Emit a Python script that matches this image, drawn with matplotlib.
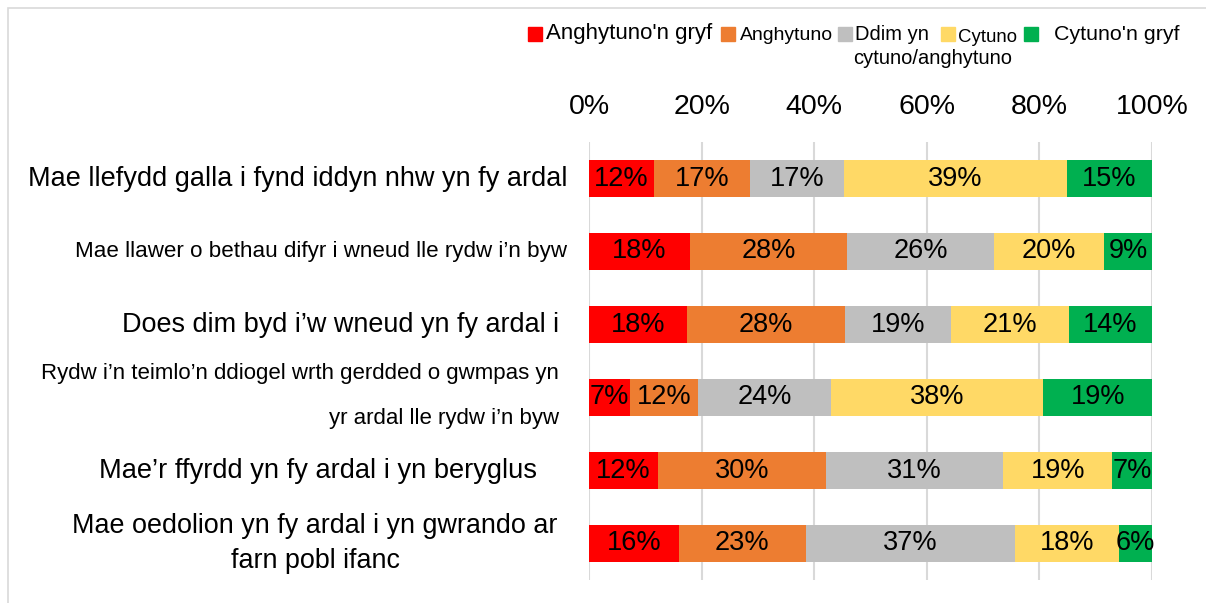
import matplotlib
matplotlib.use("Agg")
import matplotlib.pyplot as plt
import matplotlib.transforms as mtrans
from matplotlib.patches import Rectangle

W, H, DPI = 1206, 603, 100

categories = [
    "Mae llefydd galla i fynd iddyn nhw yn fy ardal",
    "Mae llawer o bethau difyr i wneud lle rydw i\u2019n byw",
    "Does dim byd i\u2019w wneud yn fy ardal i",
    "Rydw i\u2019n teimlo\u2019n ddiogel wrth gerdded o gwmpas yn\nyr ardal lle rydw i\u2019n byw",
    "Mae\u2019r ffyrdd yn fy ardal i yn beryglus",
    "Mae oedolion yn fy ardal i yn gwrando ar\nfarn pobl ifanc",
]
series_names = ["Anghytuno'n gryf", "Anghytuno", "Ddim yn\ncytuno/anghytuno",
                "Cytuno", "Cytuno'n gryf"]
colors = ["#FF0000", "#ED7D31", "#BFBFBF", "#FFD966", "#00B050"]

strongly_disagree = [11.6, 17.9, 17.4, 7.3, 12.3, 15.9]
disagree = [17.0, 28.0, 28.1, 12.0, 29.8, 22.6]
neutral = [16.7, 26.0, 18.8, 23.7, 31.5, 37.2]
agree = [39.6, 19.6, 21.0, 37.7, 19.3, 18.4]
strongly_agree = [15.1, 8.5, 14.7, 19.3, 7.1, 5.9]

labels_sd = [12, 18, 18, 7, 12, 16]
labels_d = [17, 28, 28, 12, 30, 23]
labels_n = [17, 26, 19, 24, 31, 37]
labels_a = [39, 20, 21, 38, 19, 18]
labels_sa = [15, 9, 14, 19, 7, 6]

xticks = [0, 20, 40, 60, 80, 100]
xtick_labels = [f"{v}%" for v in xticks]

series = [strongly_disagree, disagree, neutral, agree, strongly_agree]
series_labels = [labels_sd, labels_d, labels_n, labels_a, labels_sa]

FONT = ["Liberation Sans", "DejaVu Sans"]
plt.rcParams["font.family"] = FONT

fig = plt.figure(figsize=(W / DPI, H / DPI), dpi=DPI)
fig.patch.set_facecolor("white")

def fx(x):
    return x / W

def fy(y):
    return 1 - y / H

# outer border
fig.add_artist(Rectangle((fx(8), -0.1), 1.2, fy(8) + 0.1, transform=fig.transFigure,
                         fill=False, edgecolor="#D9D9D9", lw=1.2))

ax = fig.add_axes([fx(589), fy(580), (1152 - 589) / W, (580 - 142) / H])
n = len(categories)
ypos = list(range(n))
left = [0.0] * n
for vals, labs, col in zip(series, series_labels, colors):
    ax.barh(ypos, vals, left=left, height=0.5, color=col, zorder=2)
    for i, (v, l) in enumerate(zip(vals, labs)):
        ax.text(left[i] + v / 2, i, f"{l}%", ha="center", va="center",
                fontsize=19.5, color="black", zorder=3)
    left = [a + b for a, b in zip(left, vals)]

ax.set_xlim(0, 100)
ax.set_ylim(n - 0.5, -0.5)
ax.xaxis.tick_top()
ax.set_xticks(xticks)
ax.set_xticklabels(xtick_labels, fontsize=20.5)
ax.tick_params(axis="x", length=0, pad=16)
ax.set_yticks([])
ax.grid(axis="x", color="#D9D9D9", lw=1.5, zorder=0)
ax.set_axisbelow(True)
for s in ax.spines.values():
    s.set_visible(False)

renderer = fig.canvas.get_renderer()

def fit(t, width_px):
    bb = t.get_window_extent(renderer)
    t.set_fontsize(t.get_fontsize() * width_px / bb.width)

# row labels: (x px, align, width px, y offset in rows, linespacing)
blend = mtrans.blended_transform_factory(fig.transFigure, ax.transData)
row_layout = [
    (567, "right", 540, 0.0, 1.2),
    (567, "right", 492, 0.0, 1.2),
    (559, "right", 437, 0.0, 1.2),
    (559, "right", 518, -0.02, 2.5),
    (537, "right", 438, 0.0, 1.2),
    (315, "center", 484, 0.0, 1.45),
]
for i, (cat, (x, ha, w, dy, ls)) in enumerate(zip(categories, row_layout)):
    t = ax.text(fx(x), i + dy, cat, transform=blend, ha=ha, va="center",
                multialignment=ha, fontsize=16, linespacing=ls)
    fit(t, w)

# legend (manual, to mimic the original arrangement)
# (square x, square y, text x, first-line y, width of widest line)
leg_layout = [
    (528, 34, 546, 34, 167),
    (721, 34, 740, 35, 93),
    (838, 34, 855, 34, 160),
    (941, 34, 958, 38, 59),
    (1024, 34, 1054, 34, 126),
]
for name, col, (sx, sy, tx, ty, tw) in zip(series_names, colors, leg_layout):
    fig.add_artist(Rectangle((fx(sx), fy(sy + 7)), 14 / W, 14 / H,
                             transform=fig.transFigure, color=col))
    lines = name.split("\n")
    widest = max(lines, key=len)
    probe = fig.text(0, 0, widest, fontsize=14)
    fit(probe, tw)
    fs = probe.get_fontsize()
    probe.remove()
    for k, line in enumerate(lines):
        fig.text(fx(tx - (2 if k else 0)), fy(ty + 24 * k), line, ha="left",
                 va="center", fontsize=fs)

fig.savefig("out.png", dpi=DPI)
